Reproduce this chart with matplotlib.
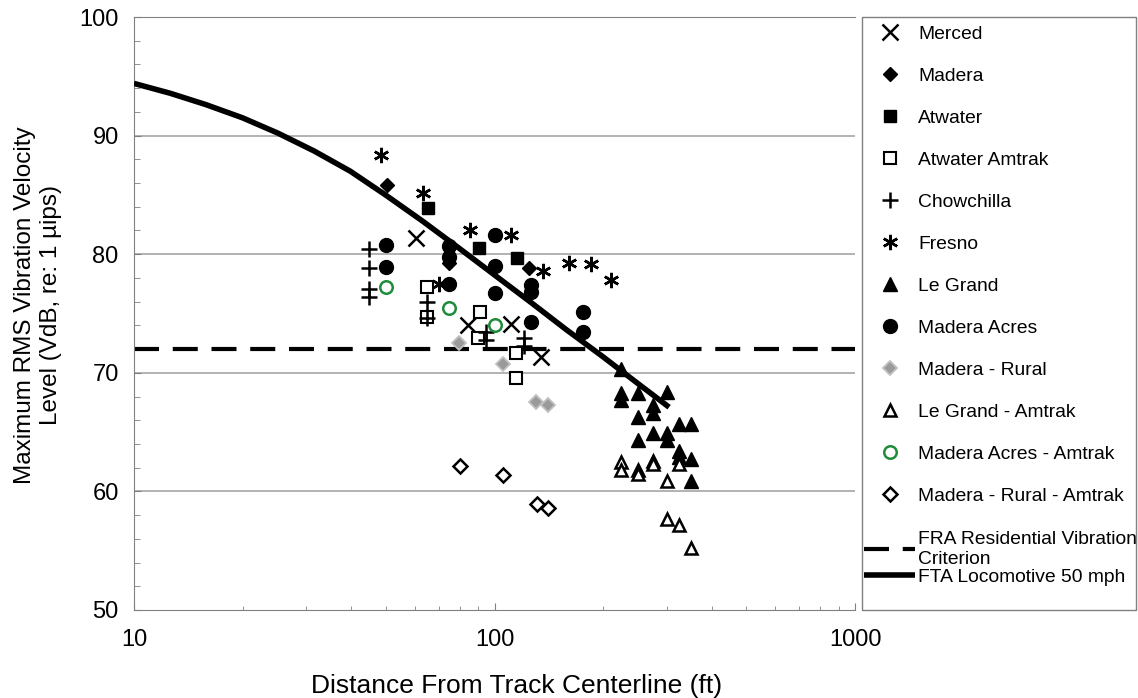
import matplotlib
matplotlib.use("Agg")
import matplotlib.pyplot as plt
from matplotlib.patches import Rectangle

plt.rcParams['font.family'] = ['Liberation Sans', 'DejaVu Sans']

# ---- data (distance ft, VdB) ----
merced_x = [60.5, 84.4, 111, 135]
merced_y = [81.4, 74.0, 74.1, 71.3]

madera_x = [50.2, 75, 125]
madera_y = [85.8, 79.3, 78.8]

atwater_x = [65.3, 90.6, 115.5]
atwater_y = [83.9, 80.5, 79.7]

atwater_amtrak_x = [65, 65, 91, 90, 115, 115]
atwater_amtrak_y = [77.2, 74.7, 75.1, 72.9, 71.7, 69.6]

chowchilla_x = [45, 45, 45, 45, 65, 65, 95, 95, 121, 121]
chowchilla_y = [80.4, 78.8, 77.1, 76.4, 76.0, 74.6, 73.4, 72.8, 72.9, 72.3]

fresno_x = [48.3, 63.2, 85.5, 111, 136, 161, 185, 211, 70]
fresno_y = [88.4, 85.2, 82.0, 81.6, 78.6, 79.3, 79.2, 77.8, 77.5]

legrand_x = [225, 225, 225, 250, 300, 275, 250, 275, 325, 350, 250, 275, 300, 300, 325, 325, 350, 350]
legrand_y = [70.3, 68.3, 67.7, 68.3, 68.4, 67.3, 66.3, 66.6, 65.7, 65.7, 64.3, 64.9, 64.9, 64.3, 63.4, 62.9, 62.7, 60.9]

madera_acres_x = [50, 50, 75, 75, 75, 100, 100, 100, 126, 126, 126, 176, 176]
madera_acres_y = [80.8, 78.9, 80.7, 79.8, 77.5, 81.6, 79.0, 76.7, 77.4, 76.8, 74.3, 75.1, 73.4]

madera_rural_x = [79.6, 105.6, 130.5, 141]
madera_rural_y = [72.5, 70.7, 67.5, 67.3]

legrand_amtrak_x = [225, 225, 250, 250, 275, 275, 325, 300, 300, 325, 350]
legrand_amtrak_y = [62.5, 61.8, 61.8, 61.5, 62.6, 62.3, 62.3, 60.9, 57.7, 57.2, 55.2]

madera_acres_amtrak_x = [50, 75, 100]
madera_acres_amtrak_y = [77.2, 75.5, 74.0]

madera_rural_amtrak_x = [80, 105.6, 131, 141]
madera_rural_amtrak_y = [62.1, 61.4, 58.9, 58.6]

fra_criterion = 72
fta_x = [10, 12.6, 15.8, 20, 25.1, 31.6, 39.8, 50.1, 63.1, 79.4, 100, 126, 158, 200, 251, 305]
fta_y = [94.4, 93.57, 92.62, 91.5, 90.2, 88.7, 87.0, 84.95, 82.8, 80.55, 78.25, 75.95, 73.65, 71.35, 69.05, 67.1]

# ---- figure ----
W, H = 1138, 698
fig = plt.figure(figsize=(W / 100, H / 100), dpi=100)
ax = fig.add_axes([134 / W, 1 - 610 / H, (855 - 134) / W, (610 - 17) / H])

ax.set_xscale('log')
ax.set_xlim(10, 1000)
ax.set_ylim(50, 100)

for yv in [60, 70, 80, 90]:
    ax.axhline(yv, color='#a6a6a6', lw=1.2, zorder=0)

h_fra, = ax.plot([10, 1000], [fra_criterion, fra_criterion], color='black', lw=3,
                 dashes=(6, 3.3), zorder=2, label='FRA Residential Vibration\nCriterion')
h_fta, = ax.plot(fta_x, fta_y, color='black', lw=4, zorder=3, label='FTA Locomotive 50 mph',
                 solid_capstyle='butt', solid_joinstyle='round')

handles = []
handles.append(ax.plot(merced_x, merced_y, ls='none', marker='x', ms=11, mew=1.8, color='black', label='Merced', zorder=4)[0])
handles.append(ax.plot(madera_x, madera_y, ls='none', marker='D', ms=7, mfc='black', mec='black', label='Madera', zorder=4)[0])
handles.append(ax.plot(atwater_x, atwater_y, ls='none', marker='s', ms=9, mfc='black', mec='black', label='Atwater', zorder=4)[0])
handles.append(ax.plot(atwater_amtrak_x, atwater_amtrak_y, ls='none', marker='s', ms=8.5, mfc='white', mec='black', mew=1.5, label='Atwater Amtrak', zorder=4)[0])
handles.append(ax.plot(chowchilla_x, chowchilla_y, ls='none', marker='+', ms=11, mew=1.8, color='black', label='Chowchilla', zorder=4)[0])
handles.append(ax.plot(fresno_x, fresno_y, ls='none', marker=(6, 2, 0), ms=11, mew=1.8, color='black', label='Fresno', zorder=4)[0])
handles.append(ax.plot(legrand_x, legrand_y, ls='none', marker='^', ms=10, mfc='black', mec='black', label='Le Grand', zorder=4)[0])
handles.append(ax.plot(madera_acres_x, madera_acres_y, ls='none', marker='o', ms=10, mfc='black', mec='black', label='Madera Acres', zorder=4)[0])
handles.append(ax.plot(madera_rural_x, madera_rural_y, ls='none', marker='D', ms=7.5, mfc='#9a9a9a', mec='#c0c0c0', mew=1.3, label='Madera - Rural', zorder=4)[0])
handles.append(ax.plot(legrand_amtrak_x, legrand_amtrak_y, ls='none', marker='^', ms=9, mfc='white', mec='black', mew=1.8, label='Le Grand - Amtrak', zorder=4)[0])
handles.append(ax.plot(madera_acres_amtrak_x, madera_acres_amtrak_y, ls='none', marker='o', ms=9, mfc='white', mec='#1e8c3a', mew=1.8, label='Madera Acres - Amtrak', zorder=4)[0])
handles.append(ax.plot(madera_rural_amtrak_x, madera_rural_amtrak_y, ls='none', marker='D', ms=7.5, mfc='white', mec='black', mew=1.8, label='Madera - Rural - Amtrak', zorder=4)[0])

ax.set_yticks([50, 60, 70, 80, 90, 100])
ax.set_yticks(list(range(50, 101, 2)), minor=True)
ax.set_xticks([10, 100, 1000])
ax.set_xticklabels(['10', '100', '1000'])
ax.tick_params(axis='both', which='major', labelsize=17, direction='in', length=5, color='#808080')
ax.tick_params(axis='y', which='major', pad=11)
ax.tick_params(axis='x', which='major', pad=14)
ax.tick_params(axis='y', which='minor', direction='in', length=4, color='#808080')
ax.tick_params(axis='x', which='minor', direction='in', length=3, color='#808080')
ax.xaxis.set_minor_formatter(matplotlib.ticker.NullFormatter())
for s in ['top', 'left', 'bottom']:
    ax.spines[s].set_color('#808080')
ax.spines['right'].set_visible(False)

ax.set_xlabel('Distance From Track Centerline (ft)', fontsize=19)
ax.xaxis.set_label_coords((517 - 134) / (855 - 134), -(686 - 610) / (610 - 17), transform=ax.transAxes)
ax.xaxis.label.set_va('center')
ax.set_ylabel('Maximum RMS Vibration Velocity\nLevel (VdB, re: 1 \u00b5ips)', fontsize=17.5)
ax.yaxis.set_label_coords(-(134 - 38) / (855 - 134), (610 - 305) / (610 - 17), transform=ax.transAxes)
ax.yaxis.label.set_va('center')

# legend box
fig.patches.append(Rectangle((862 / W, 1 - 610 / H), (1136 - 862) / W, (610 - 17) / H,
                             transform=fig.transFigure, fill=False, edgecolor='#808080', lw=1))
leg1 = fig.legend(handles=handles, loc='upper left', bbox_to_anchor=(866 / W, 1 - 25 / H),
                  frameon=False, fontsize=13.9, handlelength=2.5, handletextpad=0.2,
                  labelspacing=1.27, borderaxespad=0, borderpad=0)
leg2 = fig.legend(handles=[h_fra, h_fta], loc='upper left', bbox_to_anchor=(864 / W, 1 - 531 / H),
                  frameon=False, fontsize=13.9, handlelength=2.62, handletextpad=0.2,
                  labelspacing=0.05, borderaxespad=0, borderpad=0)

fig.savefig('out.png', dpi=100)
